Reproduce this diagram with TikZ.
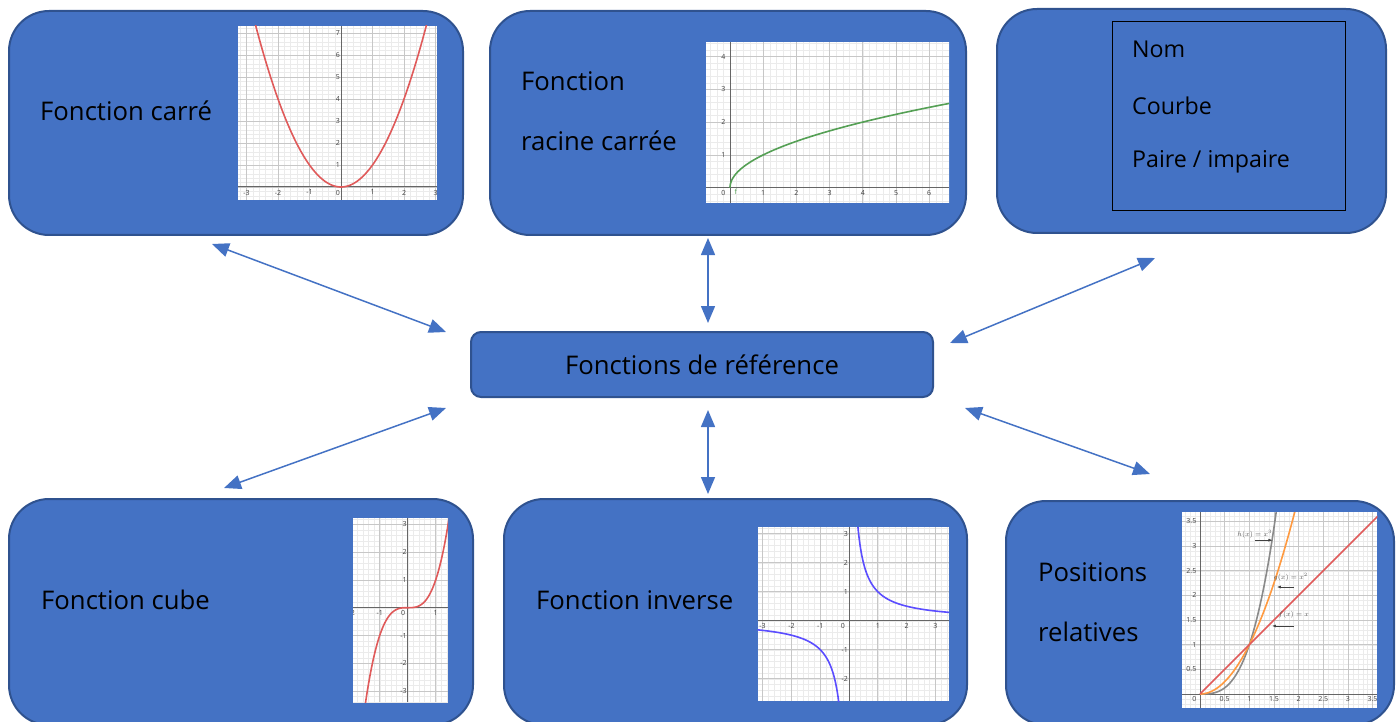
\documentclass[tikz,border=0pt]{standalone}
\usepackage{fontspec}
\setmainfont{Open Sans}
\usetikzlibrary{arrows.meta}
\definecolor{boxfill}{HTML}{4472C4}
\definecolor{boxborder}{HTML}{2F528F}
\definecolor{conncol}{HTML}{4472C4}
\definecolor{cred}{HTML}{E05A5A}
\definecolor{cgreen}{HTML}{55A055}
\definecolor{cblue}{HTML}{5B4DFF}
\definecolor{corange}{HTML}{FF9A40}
\definecolor{cgray}{HTML}{8A8A8A}
\tikzset{
  bigbox/.style={draw=boxborder, fill=boxfill, line width=2pt, rounded corners=40pt, anchor=north west, inner sep=0pt},
  midbox/.style={draw=boxborder, fill=boxfill, line width=2pt, rounded corners=10pt, inner sep=0pt},
  lbl/.style={anchor=west, inner sep=0pt, font=\fontsize{25.7}{30}\selectfont, text=black},
  lbls/.style={anchor=west, inner sep=0pt, font=\fontsize{23.2}{27}\selectfont, text=black},
  conn/.style={draw=conncol, line width=1.5pt, {Triangle[length=17pt,width=14pt]}-{Triangle[length=17pt,width=14pt]}},
  gmin/.style={draw=black!8, line width=0.4pt},
  gmaj/.style={draw=black!22, line width=0.7pt},
  gax/.style={draw=black!60, line width=1pt},
  tk/.style={font=\fontsize{7}{8}\selectfont, text=black!75, inner sep=1pt},
  curve/.style={line width=1.6pt, smooth, samples=120},
  note/.style={font=\fontsize{7.5}{9}\selectfont, text=black!65, inner sep=0pt},
  notearr/.style={draw=black!75, line width=0.7pt, -{Latex[length=4pt,width=3pt]}}
}
\newcommand\gframe[6]{%
  \fill[white] (#1,#2) rectangle (#3,#4);
  \clip (#1,#2) rectangle (#3,#4);
  \draw[gmin, step=#5] (#1,#2) grid (#3,#4);
  \draw[gmaj, step=#6] (#1,#2) grid (#3,#4);
  \draw[gax] (#1,0) -- (#3,0);
  \draw[gax] (0,#2) -- (0,#4);
}
\begin{document}
\begin{tikzpicture}[x=1pt,y=-1pt]
\useasboundingbox (0,0) rectangle (1400,722);
% boxes
\node[bigbox, minimum width=454pt, minimum height=224pt] (b1) at (8,10) {};
\node[bigbox, minimum width=476pt, minimum height=224pt] (b2) at (489,10) {};
\node[bigbox, minimum width=389pt, minimum height=224pt] (b3) at (996,8) {};
\node[bigbox, minimum width=464pt, minimum height=226pt] (b4) at (8,498) {};
\node[bigbox, minimum width=463pt, minimum height=226pt] (b5) at (503,498) {};
\node[bigbox, minimum width=388pt, minimum height=224pt] (b6) at (1005,500) {};
\node[midbox, minimum width=462pt, minimum height=65pt, font=\fontsize{25.7}{30}\selectfont] (c) at (702,364.5) {Fonctions de référence};
% texts
\node[lbl] (t1) at (40,111) {Fonction carré};
\node[lbl] (t2a) at (521,81) {Fonction};
\node[lbl] (t2b) at (521,141) {racine carrée};
\node[draw=black, line width=1.3pt, anchor=north west, minimum width=233pt, minimum height=189pt, inner sep=0pt] (r3) at (1112,21) {};
\node[lbls] (t3a) at (1132,49) {Nom};
\node[lbls] (t3b) at (1132,106) {Courbe};
\node[lbls] (t3c) at (1132,162) {Paire / impaire};
\node[lbl] (t4) at (41,600) {Fonction cube};
\node[lbl] (t5) at (536,600) {Fonction inverse};
\node[lbl] (t6a) at (1038,572) {Positions};
\node[lbl] (t6b) at (1038,632) {relatives};
% connectors
\coordinate (a1s) at (212,244); \coordinate (a1e) at (446,332);
\coordinate (a2s) at (708,238); \coordinate (a2e) at (708,323);
\coordinate (a3s) at (1155,258); \coordinate (a3e) at (950,343);
\coordinate (a4s) at (224,488); \coordinate (a4e) at (446,408);
\coordinate (a5s) at (708,410); \coordinate (a5e) at (708,494);
\coordinate (a6s) at (965,408); \coordinate (a6e) at (1150,474);
\draw[conn] (a1s) -- (a1e);
\draw[conn] (a2s) -- (a2e);
\draw[conn] (a3s) -- (a3e);
\draw[conn] (a4s) -- (a4e);
\draw[conn] (a5s) -- (a5e);
\draw[conn] (a6s) -- (a6e);
% graph 1: square
\begin{scope}[shift={(341,187)}, x=31.5pt, y=22pt]
  \gframe{-3.27}{-0.59}{3.05}{7.32}{0.2}{1}
  \foreach \v in {-3,-2,-1,1,2,3} \node[tk, anchor=north] (g1x\v) at (\v,-0.08) {\v};
  \node[tk, anchor=north east] (g1o) at (0,-0.08) {0};
  \foreach \v in {1,...,7} \node[tk, anchor=east] (g1y\v) at (0,\v) {\v};
  \draw[cred, curve, domain=-2.9:2.9] plot (\x,{\x*\x});
\end{scope}
% graph 2: sqrt
\begin{scope}[shift={(730,187.7)}, x=33.2pt, y=32.8pt]
  \gframe{-0.73}{-0.47}{6.6}{4.45}{0.2}{1}
  \foreach \v in {1,...,6} \node[tk, anchor=north] (g2x\v) at (\v,-0.05) {\v};
  \node[tk, anchor=north east] (g2o) at (-0.1,-0.05) {0};
  \foreach \v in {1,...,4} \node[tk, anchor=east] (g2y\v) at (-0.1,\v) {\v};
  \draw[cgreen, curve, domain=0:2.6] plot ({\x*\x},\x);
  \node[tk, text=cgreen, anchor=north west] (g2f) at (0.1,0) {f};
\end{scope}
% graph 3: cube
\begin{scope}[shift={(407.7,607.7)}, x=28pt, y=27.8pt]
  \gframe{-1.95}{-3.4}{1.44}{3.24}{0.2}{1}
  \foreach \v in {-1,1} \node[tk, anchor=north] (g3x\v) at (\v,-0.05) {\v};
  \node[tk, anchor=north] (g3xm2) at (-2,-0.05) {-2};
  \node[tk, anchor=north east] (g3o) at (-0.05,-0.05) {0};
  \foreach \v in {-3,-2,-1,1,2,3} \node[tk, anchor=east] (g3y\v) at (0,\v) {\v};
  \draw[cred, curve, domain=-1.55:1.5] plot (\x,{\x*\x*\x});
\end{scope}
% graph 4: inverse
\begin{scope}[shift={(849,620.7)}, x=28.8pt, y=29pt]
  \gframe{-3.17}{-2.77}{3.48}{3.23}{0.2}{1}
  \foreach \v in {-3,-2,-1,1,2,3} \node[tk, anchor=north] (g4x\v) at (\v,-0.05) {\v};
  \node[tk, anchor=north east] (g4o) at (-0.1,-0.05) {0};
  \foreach \v in {-2,-1,1,2,3} \node[tk, anchor=east] (g4y\v) at (0,\v) {\v};
  \draw[cblue, curve, domain=0.3:3.5] plot (\x,{1/\x});
  \draw[cblue, curve, domain=-3.2:-0.34] plot (\x,{1/\x});
\end{scope}
% graph 5: positions relatives
\begin{scope}[shift={(1200,694)}, x=49.3pt, y=49.3pt]
  \gframe{-0.37}{-0.28}{3.6}{3.69}{0.1}{0.5}
  \foreach \v/\n in {0.5/a,1/b,1.5/c,2/d,2.5/e,3/f,3.5/g} \node[tk, anchor=north] (g5x\n) at (\v,-0.03) {\v};
  \node[tk, anchor=north east] (g5o) at (-0.05,-0.03) {0};
  \foreach \v/\n in {0.5/a,1/b,1.5/c,2/d,2.5/e,3/f,3.5/g} \node[tk, anchor=east] (g5y\n) at (-0.05,\v) {\v};
  \draw[cgray, curve, domain=0:1.56] plot (\x,{\x*\x*\x});
  \draw[corange, curve, domain=0:1.95] plot (\x,{\x*\x});
  \draw[cred, line width=1.6pt] (0,0) -- (3.7,3.7);
  \node[note] (nh) at (1.11,3.25) {$h(x)=x^3$};
  \node[note] (ng) at (1.84,2.37) {$g(x)=x^2$};
  \node[note] (nf) at (1.9,1.6) {$f(x)=x$};
  \coordinate (nha) at (1.12,3.12); \coordinate (nhb) at (1.47,3.12);
  \coordinate (nga) at (1.91,2.17); \coordinate (ngb) at (1.56,2.17);
  \coordinate (nfa) at (1.91,1.38); \coordinate (nfb) at (1.46,1.38);
  \draw[notearr] (nha) -- (nhb);
  \draw[notearr] (nga) -- (ngb);
  \draw[notearr] (nfa) -- (nfb);
\end{scope}
\end{tikzpicture}
\end{document}
